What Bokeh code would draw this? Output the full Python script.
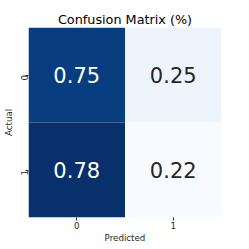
import numpy as np
from bokeh.plotting import figure
from bokeh.models import ColumnDataSource, LinearColorMapper
from bokeh.palettes import Blues9
from bokeh.transform import transform
from bokeh.embed import file_html
from bokeh.resources import INLINE
from bokeh.core.properties import value

# data
actual = ["0", "0", "1", "1"]
predicted = ["0", "1", "0", "1"]
values = [0.75, 0.25, 0.78, 0.22]
x_labels = ["0", "1"]
y_labels = ["0", "1"]

# continuous Blues palette built from Blues9
base = list(reversed(Blues9))
def hex2rgb(h):
    return tuple(int(h[i:i + 2], 16) for i in (1, 3, 5))
rgbs = [hex2rgb(c) for c in base]
pal = []
n = 256
for i in range(n):
    t = i / (n - 1) * (len(rgbs) - 1)
    k = min(int(t), len(rgbs) - 2)
    f = t - k
    c = [round(rgbs[k][j] + (rgbs[k + 1][j] - rgbs[k][j]) * f) for j in range(3)]
    pal.append("#%02x%02x%02x" % tuple(c))

lo, hi = min(values), max(values)
mapper = LinearColorMapper(palette=pal, low=lo, high=hi)
txt_colors = ["white" if (v - lo) / (hi - lo) > 0.5 else "#262626" for v in values]
labels = ["%.2f" % v for v in values]

src = ColumnDataSource(dict(x=predicted, y=actual, v=values, t=labels, tc=txt_colors))

p = figure(frame_width=193, frame_height=190, x_range=x_labels, y_range=list(reversed(y_labels)),
           output_backend="svg", toolbar_location=None, title="Confusion Matrix (%)",
           min_border_left=23, min_border_right=17, min_border_top=27, min_border_bottom=24)
p.rect(x="x", y="y", width=1, height=1, source=src,
       fill_color=transform("v", mapper), line_color=None)
p.text(x="x", y="y", text="t", source=src, text_color="tc",
       text_align="center", text_baseline="middle",
       text_font=value("DejaVu Sans"), text_font_size="21px")

p.title.text_font = "DejaVu Sans"
p.title.text_font_style = "normal"
p.title.text_font_size = "12.8px"
p.title.align = "center"
p.title.text_color = "#000000"
p.title.standoff = 2

p.outline_line_color = None
p.grid.visible = False
for ax in (p.xaxis, p.yaxis):
    ax.axis_line_color = None
    ax.major_tick_line_color = "#262626"
    ax.major_tick_out = 3
    ax.major_tick_in = 0
    ax.minor_tick_line_color = None
    ax.major_label_text_font = "DejaVu Sans"
    ax.major_label_text_font_size = "8.7px"
    ax.major_label_text_color = "#262626"
    ax.axis_label_text_font = "DejaVu Sans"
    ax.axis_label_text_font_size = "8.7px"
    ax.axis_label_text_font_style = "normal"
    ax.axis_label_text_color = "#262626"
    ax.major_label_standoff = 1
    ax.axis_label_standoff = 1
p.xaxis.axis_label = "Predicted"
p.yaxis.axis_label = "Actual"
p.yaxis.major_label_orientation = np.pi / 2
p.background_fill_color = "white"
p.border_fill_color = "white"

open("out.html", "w").write(file_html(p, INLINE))
